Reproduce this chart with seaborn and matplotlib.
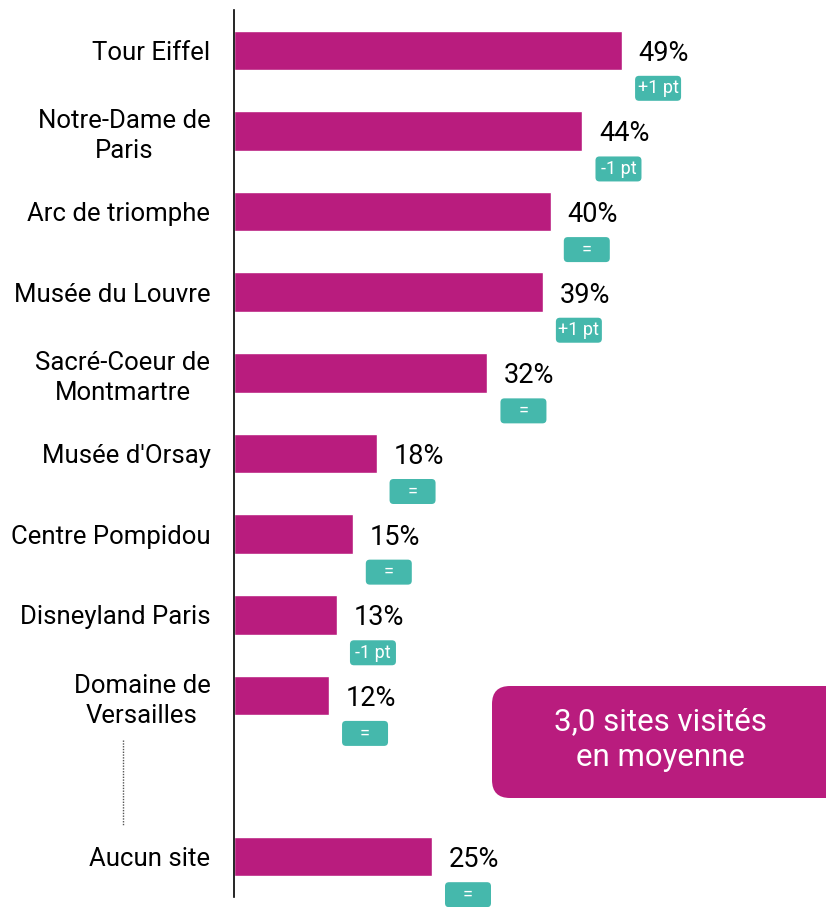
import numpy as np
import pandas as pd
import matplotlib
matplotlib.use("Agg")
import matplotlib.pyplot as plt
import matplotlib.transforms as mtransforms
from matplotlib.patches import FancyBboxPatch
from matplotlib.lines import Line2D
import seaborn as sns

# Données
sites = ["Tour Eiffel", "Notre-Dame de\nParis", "Arc de triomphe", "Musée du Louvre",
         "Sacré-Coeur de\nMontmartre", "Musée d'Orsay", "Centre Pompidou",
         "Disneyland Paris", "Domaine de\nVersailles", "Aucun site"]
valeurs = [49, 44, 40, 39, 32, 18, 15, 13, 12, 25]
evolutions = ["+1 pt", "-1 pt", "=", "+1 pt", "=", "=", "=", "-1 pt", "=", "="]
ordre = sites[:9] + [" "] + sites[9:]

magenta = "#B91C7E"
teal = "#45B8AC"

df = pd.DataFrame({"site": sites, "valeur": valeurs, "evol": evolutions})

sns.set_style("white")
plt.rcParams["font.family"] = ["Roboto", "DejaVu Sans"]

fig = plt.figure(figsize=(8.26, 9.07), dpi=100)
ax = fig.add_axes([234 / 826, 10 / 907, (826 - 234) / 826, (897 - 10) / 907])

sns.barplot(data=df, x="valeur", y="site", order=ordre, color=magenta,
            width=0.49, saturation=1, ax=ax)

ax.set_xlim(0, 592 / 7.92)
ax.set_ylim(len(ordre) - 0.5, -0.5)
ax.set_xlabel("")
ax.set_ylabel("")
ax.set_xticks([])

for s in ["top", "right", "bottom"]:
    ax.spines[s].set_visible(False)
ax.spines["left"].set_color("black")
ax.spines["left"].set_linewidth(1.2)

# étiquettes des catégories
ax.tick_params(axis="y", which="major", length=0, pad=17, labelsize=18.5, labelcolor="black")
for lab in ax.get_yticklabels():
    lab.set_multialignment("center")
    lab.set_linespacing(1.3)
ax.set_yticks(np.arange(-0.5, len(ordre)), minor=True)
ax.tick_params(axis="y", which="minor", length=8, color="#999999", width=1)

# valeurs et badges d'évolution
for i, row in df.iterrows():
    pos = ordre.index(row["site"])
    v = row["valeur"]
    ax.annotate(f"{v}%", xy=(v, pos), xytext=(12, 0), textcoords="offset points",
                ha="left", va="center_baseline", fontsize=19.5, color="black")
    tr = fig.dpi_scale_trans + mtransforms.ScaledTranslation(v, pos, ax.transData)
    badge = FancyBboxPatch((0.13, -0.505), 0.46, 0.25,
                           boxstyle="round,pad=0,rounding_size=0.04",
                           facecolor=teal, edgecolor="none", transform=tr, clip_on=False)
    ax.add_patch(badge)
    ax.text(0.13 + 0.23, -0.38, row["evol"], transform=tr, ha="center", va="center",
            fontsize=13, color="white", clip_on=False)

# ligne pointillée dans l'intervalle
fig.add_artist(Line2D([123 / 826, 123 / 826], [1 - 740 / 907, 1 - 826 / 907],
                      transform=fig.transFigure, color="#555555", lw=1, linestyle=(0, (1, 1))))

# encadré moyenne
box = FancyBboxPatch((4.92, 1.09), 3.6, 1.12, boxstyle="round,pad=0,rounding_size=0.18",
                     facecolor=magenta, edgecolor="none", transform=fig.dpi_scale_trans)
fig.add_artist(box)
fig.text(660 / 826, 1 - 740 / 907, "3,0 sites visités\nen moyenne", ha="center", va="center",
         fontsize=22.5, color="white", linespacing=1.3)

plt.savefig("out.png", dpi=100)
